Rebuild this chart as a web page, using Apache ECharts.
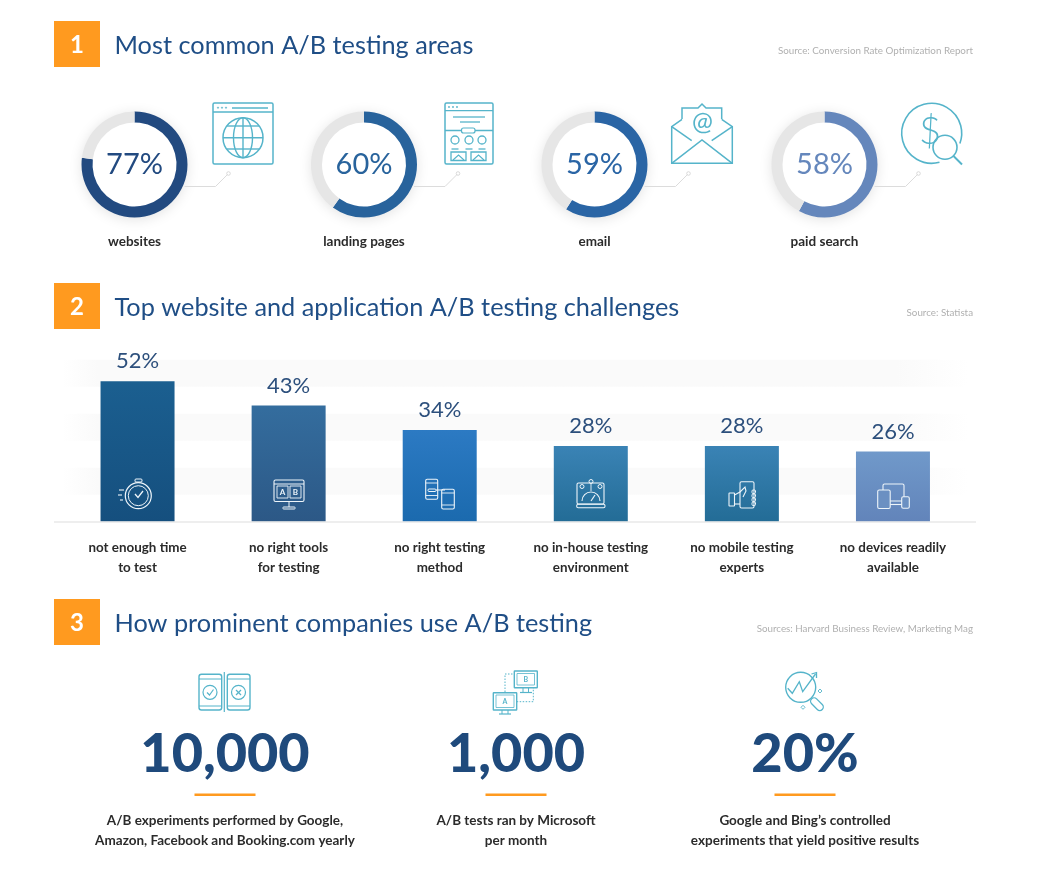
<!DOCTYPE html>
<html>
<head>
<meta charset="utf-8">
<title>A/B testing</title>
<script src="https://cdn.jsdelivr.net/npm/echarts@6/dist/echarts.min.js"></script>
<style>
  html, body { margin: 0; padding: 0; background: #fff; }
  #main { width: 1062px; height: 889px; }
</style>
</head>
<body>
<div id="main"></div>
<script>
// section headers
const sectionTitles = ['Most common A/B testing areas', 'Top website and application A/B testing challenges', 'How prominent companies use A/B testing'];
const sectionSources = ['Source: Conversion Rate Optimization Report', 'Source: Statista', 'Sources: Harvard Business Review, Marketing Mag'];

// 1. donuts
const areaNames = ['websites', 'landing pages', 'email', 'paid search'];
const areaValues = [77, 60, 59, 58];

// 2. bars
const challengeNames = ['not enough time\nto test', 'no right tools\nfor testing', 'no right testing\nmethod', 'no in-house testing\nenvironment', 'no mobile testing\nexperts', 'no devices readily\navailable'];
const challengeValues = [52, 43, 34, 28, 28, 26];

// 3. big numbers
const statValues = ['10,000', '1,000', '20%'];
const statLines = [
  ['A/B experiments performed by Google,', 'Amazon, Facebook and Booking.com yearly'],
  ['A/B tests ran by Microsoft', 'per month'],
  ['Google and Bing\u2019s controlled', 'experiments that yield positive results']
];

// styles
const FONT = 'Lato, "Open Sans", sans-serif';
const ORANGE = '#ff9a1f';
const TEAL = '#55b4ca';
const NAVY = '#1f4a7c';
const donutColors = ['#224a80', '#28639c', '#2a65a5', '#6587bc'];
const barColors = [['#1b5f90', '#154f7e'], ['#346d9e', '#2c5886'], ['#2c7ac3', '#1b6aae'], ['#3a83b5', '#236c96'], ['#3a83b5', '#236c96'], ['#7099ca', '#6284ba']];
const donutX = [134.5, 364, 594.5, 824.5];
const donutY = 164.5;
const headerY = [21, 283, 599];
const statX = [225, 516, 805];

// small drawing helpers for the decorative parts
function txt(x, y, text, font, fill, align) {
  return { type: 'text', x: x, y: y, silent: true, style: { text: text, font: font + ' ' + FONT, fill: fill, align: align || 'center', verticalAlign: 'middle' } };
}
function stroke(color, w) { return { stroke: color, lineWidth: w || 1.3, fill: 'none' }; }
function pl(points, color, w) { return { type: 'polyline', silent: true, shape: { points: points }, style: stroke(color, w) }; }
function box(x, y, w, h, color, lw, r) { return { type: 'rect', silent: true, shape: { x: x, y: y, width: w, height: h, r: r === undefined ? 1.5 : r }, style: stroke(color, lw) }; }
function circ(x, y, r, color, lw) { return { type: 'circle', silent: true, shape: { cx: x, cy: y, r: r }, style: stroke(color, lw) }; }
function arc(x, y, r, a0, a1, color, lw) {
  return { type: 'arc', silent: true, shape: { cx: x, cy: y, r: r, startAngle: a0 * Math.PI / 180, endAngle: a1 * Math.PI / 180, clockwise: true }, style: stroke(color, lw) };
}

const g = [];

// numbered headers
headerY.forEach(function (y, i) {
  g.push({ type: 'rect', silent: true, shape: { x: 54, y: y, width: 46, height: 46 }, style: { fill: ORANGE } });
  g.push(txt(77, y + 24, String(i + 1), 'bold 24px', '#fff'));
  g.push(txt(114.5, y + 25, sectionTitles[i], '25.3px', '#1f4e86', 'left'));
  g.push(txt(973, y + 30, sectionSources[i], '9.8px', '#b0b0b0', 'right'));
});

// donut shadows, names and connector lines
donutX.forEach(function (x, i) {
  g.push({ type: 'circle', silent: true, under: true, shape: { cx: x, cy: donutY, r: 52 }, style: { fill: '#fff', shadowBlur: 14, shadowColor: 'rgba(0,0,0,0.13)', shadowOffsetY: 2 } });
  g.push(txt(x, 241.5, areaNames[i], 'bold 13.5px', '#2b2b2b'));
  g.push(pl([[x + 50, donutY + 22], [x + 81, donutY + 22], [x + 93, donutY + 10]], '#dcdcdc', 1));
  g.push(circ(x + 94, donutY + 9, 1.8, '#d0d0d0', 0.8));
});

// icon: browser with globe
g.push(box(213, 103, 60, 61, TEAL, 1.5));
g.push(pl([[213, 112], [273, 112]], TEAL));
g.push(pl([[232, 108], [268, 108]], TEAL));
[218, 222, 226].forEach(function (x) { g.push(circ(x, 107.7, 0.6, TEAL, 1)); });
g.push(circ(243, 137.7, 20, TEAL, 1.5));
g.push({ type: 'ellipse', silent: true, shape: { cx: 243, cy: 137.7, rx: 9.5, ry: 20 }, style: stroke(TEAL, 1.4) });
g.push(pl([[243, 117.7], [243, 157.7]], TEAL, 1.4));
g.push(pl([[223, 137.7], [263, 137.7]], TEAL, 1.4));
g.push(pl([[227, 126], [259, 126]], TEAL, 1.4));
g.push(pl([[227, 149], [259, 149]], TEAL, 1.4));

// icon: landing page
g.push(box(445, 103, 48, 61, TEAL, 1.5));
g.push(pl([[445, 110.7], [493, 110.7]], TEAL));
[449, 453, 457].forEach(function (x) { g.push(circ(x, 107, 0.6, TEAL, 1)); });
g.push(pl([[453, 117], [485, 117]], TEAL));
g.push(pl([[460, 122], [480, 122]], TEAL));
g.push(pl([[445, 130.5], [493, 130.5]], TEAL));
g.push({ type: 'rect', silent: true, shape: { x: 461.5, y: 128, width: 13.5, height: 5, r: 2 }, style: { fill: '#fff', stroke: TEAL, lineWidth: 1.2 } });
[455, 469, 482].forEach(function (x) {
  g.push(circ(x, 140, 4, TEAL));
  g.push(pl([[x - 3.5, 149], [x + 3.5, 149]], TEAL));
});
[451, 471].forEach(function (x) {
  g.push(box(x, 152, 15, 8.5, TEAL, 1.3, 0));
  g.push(pl([[x + 2, 160], [x + 7.5, 155], [x + 13, 160]], TEAL, 1.1));
});

// icon: envelope
g.push(pl([[682, 119], [682, 108], [698, 108], [702, 104], [706, 108], [721.7, 108], [721.7, 119]], TEAL, 1.5));
g.push(pl([[682, 119.3], [671.7, 126.7], [671.7, 163.3], [732.3, 163.3], [732.3, 126.7], [721.7, 119.3]], TEAL, 1.5));
g.push(pl([[671.7, 163.3], [702, 140], [732.3, 163.3]], TEAL, 1.5));
g.push(pl([[671.7, 126.7], [691.7, 140.7]], TEAL, 1.5));
g.push(pl([[732.3, 126.7], [711.7, 140.7]], TEAL, 1.5));
g.push(txt(702.5, 122, '@', '25px', TEAL));

// icon: dollar with magnifier
g.push(arc(931.7, 133.3, 30, 75, 380, TEAL, 1.6));
g.push(circ(945, 147.3, 12, TEAL, 1.6));
g.push(pl([[953.5, 156], [962, 164.5]], TEAL, 2));
g.push(txt(930, 132, '$', '300 38px', TEAL));

// white icons inside the bars
const W = '#eef5fa';
// stopwatch
g.push(circ(138.3, 495.7, 13, W, 1.2));
g.push(circ(138.3, 495.7, 10, W, 1));
g.push(box(135, 479, 7, 3, W, 1, 1));
g.push(pl([[135, 494], [138, 497.5], [143, 491]], W, 1.3));
[[119, 490, 124], [118, 495, 122], [120, 500, 123]].forEach(function (s) { g.push(pl([[s[0], s[1]], [s[2], s[1]]], W, 1.1)); });
// monitor with A B
g.push(box(274, 480, 30, 21.5, W, 1.1));
g.push(pl([[274, 484], [304, 484]], W, 1));
g.push(box(277, 486, 11, 12, W, 0.9, 0));
g.push(box(290, 486, 11, 12, W, 0.9, 0));
g.push(txt(282.5, 492.5, 'A', 'bold 8px', W));
g.push(txt(295.5, 492.5, 'B', 'bold 8px', W));
g.push(pl([[289, 501.5], [289, 507]], W, 1));
g.push(box(283, 507, 12, 2, W, 1, 0.5));
// two phones
g.push(box(425.7, 479.3, 12, 20, W, 1.1));
g.push(box(441.7, 489.3, 12.6, 19.7, W, 1.1));
g.push(pl([[425.7, 483], [437.7, 483]], W, 0.9));
g.push(pl([[425.7, 495.5], [437.7, 495.5]], W, 0.9));
g.push(pl([[441.7, 493], [454.3, 493]], W, 0.9));
g.push(pl([[441.7, 505], [454.3, 505]], W, 0.9));
g.push(box(428, 489, 8, 2.5, W, 1, 1));
g.push(pl([[436, 490], [445, 490]], W, 1));
// laptop with gauge
g.push(box(577, 483, 27, 21, W, 1.1));
g.push(box(576.7, 504.3, 28.3, 3.4, W, 1.1, 1.5));
g.push(arc(591, 501, 9, 180, 360, W, 1.1));
g.push(pl([[591, 501], [595, 495]], W, 1.2));
[[591, 481.5], [582, 486.5], [600, 486.5]].forEach(function (p) { g.push(circ(p[0], p[1], 2, W, 1)); });
g.push(pl([[591, 483.5], [591, 491]], W, 0.9));
// hand holding phone
g.push(box(740, 481.7, 14, 26.3, W, 1.1));
g.push(box(729, 493, 5.5, 13, W, 1.1, 0.5));
g.push(pl([[734.5, 495], [740, 492], [745, 487], [746, 491], [743, 497]], W, 1.1));
g.push(pl([[734.5, 504], [740, 504]], W, 1.1));
[490, 494, 498, 502].forEach(function (y) { g.push(box(752, y, 3.5, 3.5, W, 1, 1)); });
// three devices
g.push(box(883, 484, 21, 17, W, 1.1));
g.push(pl([[890, 504.5], [902, 504.5]], W, 1.1));
g.push({ type: 'rect', silent: true, shape: { x: 877.7, y: 490, width: 12.5, height: 18.5, r: 1.5 }, style: { fill: '#6b90c2', stroke: W, lineWidth: 1.1 } });
g.push({ type: 'rect', silent: true, shape: { x: 901.7, y: 496.7, width: 7.6, height: 11.5, r: 1.5 }, style: { fill: '#6b90c2', stroke: W, lineWidth: 1.1 } });

// baseline of the bar chart
g.push(pl([[54, 522], [976, 522]], '#e8e8e8', 1.6));

// icon: phones compared
g.push(box(199, 674.3, 22.7, 35.7, TEAL, 1.4, 2.5));
g.push(box(227.3, 674.3, 22.7, 35.7, TEAL, 1.4, 2.5));
g.push(pl([[224.3, 672], [224.3, 712]], TEAL, 1.2));
[[199, 221.7], [227.3, 250]].forEach(function (p) {
  g.push(pl([[p[0], 679], [p[1], 679]], TEAL, 1));
  g.push(pl([[p[0], 706], [p[1], 706]], TEAL, 1));
});
g.push(circ(210, 692.3, 7, TEAL, 1.2));
g.push(circ(238.5, 692.3, 7, TEAL, 1.2));
g.push(pl([[207, 692.5], [209.5, 695], [213.5, 689.5]], TEAL, 1.2));
g.push(pl([[236, 690], [241, 695]], TEAL, 1.2));
g.push(pl([[241, 690], [236, 695]], TEAL, 1.2));

// icon: A and B monitors
g.push(box(514.3, 671, 23, 16.7, TEAL, 1.4, 0.5));
g.push(box(517, 673.5, 17.5, 11.5, TEAL, 0.8, 0));
g.push(txt(525.8, 679.5, 'B', 'bold 7px', TEAL));
g.push(pl([[523, 688], [523, 692.5]], TEAL, 1));
g.push(pl([[528.5, 688], [528.5, 692.5]], TEAL, 1));
g.push(pl([[520, 692.5], [532, 692.5]], TEAL, 1.2));
g.push(box(493.3, 692.7, 23.4, 17.3, TEAL, 1.4, 0.5));
g.push(box(496, 695, 18, 12.5, TEAL, 0.8, 0));
g.push(txt(505, 701.5, 'A', 'bold 7px', TEAL));
g.push(pl([[502, 710], [502, 714]], TEAL, 1));
g.push(pl([[508, 710], [508, 714]], TEAL, 1));
g.push(pl([[499, 714], [511, 714]], TEAL, 1.2));
[[[505, 692], [505, 674], [514, 674]], [[516.7, 701.7], [533.3, 701.7], [533.3, 688]]].forEach(function (pts) {
  const l = pl(pts, TEAL, 1);
  l.style.lineDash = [1.5, 1.5];
  g.push(l);
});

// icon: chart in magnifier
g.push(circ(800.7, 687.3, 15, TEAL, 1.4));
g.push(pl([[787.7, 688.3], [792.3, 693.3], [799.3, 681.7], [802.7, 691.7], [815.5, 674]], TEAL, 1.3));
g.push(pl([[811.5, 674], [816.5, 672.5], [816.5, 678]], TEAL, 1.3));
g.push({ type: 'rect', silent: true, rotation: -Math.PI / 4, x: 812, y: 698.5, shape: { x: 0, y: -3, width: 15, height: 7, r: 3.5 }, style: stroke(TEAL, 1.3) });
[[820, 691], [803, 707.3]].forEach(function (p) {
  g.push(pl([[p[0] - 2, p[1]], [p[0], p[1] - 2], [p[0] + 2, p[1]], [p[0], p[1] + 2], [p[0] - 2, p[1]]], TEAL, 0.9));
});

// big numbers
statX.forEach(function (x, i) {
  g.push(txt(x, 755, statValues[i], '900 54px', NAVY));
  g.push({ type: 'rect', silent: true, shape: { x: x - 30.5, y: 793.5, width: 61, height: 2.4 }, style: { fill: ORANGE } });
  g.push(txt(x, 820.5, statLines[i][0], 'bold 13.5px', '#2b2b2b'));
  g.push(txt(x, 840.5, statLines[i][1], 'bold 13.5px', '#2b2b2b'));
});

// everything but the donut shadows sits above the series
g.forEach(function (el) { el.z = el.under ? 0 : 10; });

const fadeBand = new echarts.graphic.LinearGradient(0, 0, 1, 0, [
  { offset: 0, color: 'rgba(250,250,250,0)' },
  { offset: 0.04, color: '#fafafa' },
  { offset: 0.92, color: '#fafafa' },
  { offset: 1, color: 'rgba(250,250,250,0)' }
]);

const donutSeries = areaValues.map(function (v, i) {
  return {
    type: 'pie',
    silent: true,
    center: [donutX[i], donutY],
    radius: [42, 53],
    startAngle: 90,
    label: { show: false },
    labelLine: { show: false },
    data: [
      {
        value: v,
        itemStyle: { color: donutColors[i] },
        label: { show: true, position: 'center', formatter: '{c}%', fontFamily: FONT, fontSize: 29, fontWeight: 400, color: donutColors[i] }
      },
      { value: 100 - v, itemStyle: { color: '#e6e6e6' } }
    ]
  };
});

const chart = echarts.init(document.getElementById('main'), null, { renderer: 'canvas' });
chart.setOption({
  animation: false,
  backgroundColor: '#fff',
  textStyle: { fontFamily: FONT },
  tooltip: { show: false },
  grid: { left: 62, width: 906.5, top: 359.7, height: 162 },
  xAxis: {
    type: 'category',
    data: challengeNames,
    axisLine: { show: false },
    axisTick: { show: false },
    axisLabel: { interval: 0, margin: 16, fontFamily: FONT, fontSize: 13.4, fontWeight: 'bold', lineHeight: 20, color: '#2b2b2b' }
  },
  yAxis: {
    type: 'value',
    min: 0,
    max: 60,
    interval: 10,
    axisLine: { show: false },
    axisTick: { show: false },
    axisLabel: { show: false },
    splitLine: { show: false },
    splitArea: { show: true, areaStyle: { color: ['rgba(255,255,255,0)', fadeBand] } }
  },
  graphic: { elements: g },
  series: donutSeries.concat([{
    type: 'bar',
    silent: true,
    barWidth: 74,
    z: 1,
    label: { show: true, position: 'top', distance: 9, formatter: '{c}%', fontFamily: FONT, fontSize: 22, color: '#2c4f7c' },
    data: challengeValues.map(function (v, i) {
      return {
        value: v,
        itemStyle: { color: new echarts.graphic.LinearGradient(0, 0, 0, 1, [{ offset: 0, color: barColors[i][0] }, { offset: 1, color: barColors[i][1] }]) }
      };
    })
  }])
});
</script>
</body>
</html>
